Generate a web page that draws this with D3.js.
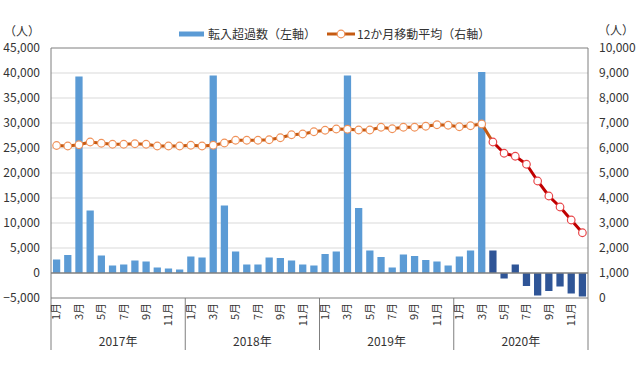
<!DOCTYPE html>
<html><head><meta charset="utf-8">
<script src="https://cdn.jsdelivr.net/npm/d3@7"></script>
<style>
body{margin:0;background:#fff;}
svg text{font-family:"Noto Sans CJK JP","Noto Sans",sans-serif;fill:#333;}
</style></head>
<body><svg id="c" width="640" height="376"></svg>
<script>
const years = ["2017年","2018年","2019年","2020年"];
const monthNames = ["1月","2月","3月","4月","5月","6月","7月","8月","9月","10月","11月","12月"];
const netMigration = [
  2700, 3600, 39300, 12500, 3500, 1500, 1700, 2500, 2300, 1100, 900, 700,
  3300, 3100, 39500, 13500, 4300, 1700, 1700, 3100, 3000, 2500, 1700, 1500,
  3800, 4300, 39500, 13000, 4500, 3200, 1100, 3700, 3400, 2600, 2300, 1500,
  3300, 4500, 40200, 4500, -1100, 1700, -2600, -4500, -3600, -2700, -4100, -4700
];
const movingAvg = [
  6100, 6080, 6130, 6240, 6190, 6150, 6150, 6170, 6150, 6080, 6080, 6080,
  6110, 6080, 6110, 6200, 6310, 6310, 6310, 6330, 6410, 6530, 6560, 6650,
  6710, 6760, 6750, 6720, 6720, 6830, 6770, 6830, 6830, 6870, 6930, 6910,
  6850, 6890, 6960, 6240, 5790, 5670, 5350, 4680, 4080, 3640, 3120, 2610
];
const leftTicks = [-5000,0,5000,10000,15000,20000,25000,30000,35000,40000,45000];
const rightTicks = [0,1000,2000,3000,4000,5000,6000,7000,8000,9000,10000];
const legendLabels = ["転入超過数（左軸）","12か月移動平均（右軸）"];
const unitLabel = "（人）";
const highlightStart = 39; // 2020年4月以降

const svg = d3.select("#c");
const L = 51, R = 588, T = 48, B = 298, AXB = 350;
const idx = d3.range(netMigration.length);
const x = d3.scaleBand().domain(idx).range([L, R]).paddingInner(0.35).paddingOuter(0.175);
const yL = d3.scaleLinear().domain([-5000, 45000]).range([B, T]);
const yR = d3.scaleLinear().domain([0, 10000]).range([B, T]);
const fmt = d3.format(",");

// gridlines
svg.append("g").selectAll("line").data(leftTicks.filter(v => v > -5000 && v < 45000 && v !== 0))
  .join("line").attr("x1", L).attr("x2", R).attr("y1", d => yL(d)).attr("y2", d => yL(d))
  .attr("stroke", "#d9d9d9").attr("stroke-width", 1);

// bars
svg.append("g").selectAll("rect").data(idx).join("rect")
  .attr("x", i => x(i)).attr("width", x.bandwidth())
  .attr("y", i => yL(Math.max(0, netMigration[i])))
  .attr("height", i => Math.abs(yL(netMigration[i]) - yL(0)))
  .attr("fill", i => i >= highlightStart ? "#2f5597" : "#5b9bd5");

// zero line
svg.append("line").attr("x1", L).attr("x2", R).attr("y1", yL(0)).attr("y2", yL(0))
  .attr("stroke", "#7f7f7f").attr("stroke-width", 1.5);

// frame
const frame = svg.append("g").attr("stroke", "#7f7f7f").attr("stroke-width", 1).attr("fill", "none");
frame.append("line").attr("x1", L).attr("x2", R).attr("y1", T).attr("y2", T);
frame.append("line").attr("x1", L).attr("x2", R).attr("y1", B).attr("y2", B);
[0, 12, 24, 36, 48].forEach(k => {
  const xx = k < 48 ? x(k) - x.step() * x.paddingOuter() : R;
  const x0 = k === 0 ? L : (k === 48 ? R : (x(k - 1) + x(k) + x.bandwidth()) / 2 - x.bandwidth() / 2);
  frame.append("line").attr("x1", L + (R - L) * k / 48).attr("x2", L + (R - L) * k / 48)
    .attr("y1", (k === 0 || k === 48) ? T : B).attr("y2", AXB);
});

// moving average line
const cx = i => x(i) + x.bandwidth() / 2;
const lineGen = d3.line().x(cx).y(i => yR(movingAvg[i]));
svg.append("path").datum(idx.filter(i => i <= highlightStart))
  .attr("d", lineGen).attr("fill", "none").attr("stroke", "#c55a11").attr("stroke-width", 3);
svg.append("path").datum(idx.filter(i => i >= highlightStart))
  .attr("d", lineGen).attr("fill", "none").attr("stroke", "#c00000").attr("stroke-width", 3);
svg.append("g").selectAll("circle").data(idx).join("circle")
  .attr("cx", cx).attr("cy", i => yR(movingAvg[i])).attr("r", 3.8)
  .attr("fill", "#fff").attr("stroke", i => i >= highlightStart ? "#e8474a" : "#f0925a").attr("stroke-width", 1.2);

// left axis
const ga = svg.append("g").attr("transform", `translate(${L - 11},0)`)
  .call(d3.axisLeft(yL).tickValues(leftTicks).tickFormat(fmt).tickSize(0).tickPadding(0));
ga.select(".domain").remove();
ga.selectAll("text").attr("font-size", 12).attr("fill", "#333").style("font-family", '"Noto Sans CJK JP"');

const gr = svg.append("g").attr("transform", `translate(${R + 11},0)`)
  .call(d3.axisRight(yR).tickValues(rightTicks).tickFormat(fmt).tickSize(0).tickPadding(0));
gr.select(".domain").remove();
gr.selectAll("text").attr("font-size", 12).attr("fill", "#333").style("font-family", '"Noto Sans CJK JP"');

// unit labels
svg.append("text").attr("x", 22).attr("y", 36).attr("text-anchor", "middle").attr("font-size", 12).text(unitLabel);
svg.append("text").attr("x", 616).attr("y", 35).attr("text-anchor", "middle").attr("font-size", 12).text(unitLabel);

// bottom month labels
const gb = svg.append("g").attr("transform", `translate(0,${B})`)
  .call(d3.axisBottom(x).tickValues(idx.filter(i => i % 2 === 0)).tickFormat(i => monthNames[i % 12]).tickSize(0));
gb.select(".domain").remove();
gb.selectAll("text").attr("font-size", 11).attr("fill", "#333")
  .attr("transform", "rotate(-90)").attr("text-anchor", "end")
  .attr("x", -5).attr("y", 0).attr("dy", "0.35em")
  .each(function(i){ d3.select(this).attr("transform", `translate(${x.bandwidth()/2 - x.bandwidth()/2},0) rotate(-90)`); });

// year labels
svg.append("g").selectAll("text").data(years).join("text")
  .attr("x", (d, k) => L + (R - L) * (k + 0.5) / 4).attr("y", 346)
  .attr("text-anchor", "middle").attr("font-size", 12).text(d => d);

// legend
const lg = svg.append("g");
lg.append("line").attr("x1", 179).attr("x2", 204).attr("y1", 34).attr("y2", 34).attr("stroke", "#5b9bd5").attr("stroke-width", 5);
lg.append("text").attr("x", 208).attr("y", 38.5).attr("font-size", 12).text(legendLabels[0]);
lg.append("line").attr("x1", 327).attr("x2", 355).attr("y1", 34).attr("y2", 34).attr("stroke", "#c55a11").attr("stroke-width", 3);
lg.append("circle").attr("cx", 341).attr("cy", 34).attr("r", 3.8).attr("fill", "#fff").attr("stroke", "#f0925a").attr("stroke-width", 1.2);
lg.append("text").attr("x", 357).attr("y", 38.5).attr("font-size", 12).text(legendLabels[1]);
</script></body></html>
